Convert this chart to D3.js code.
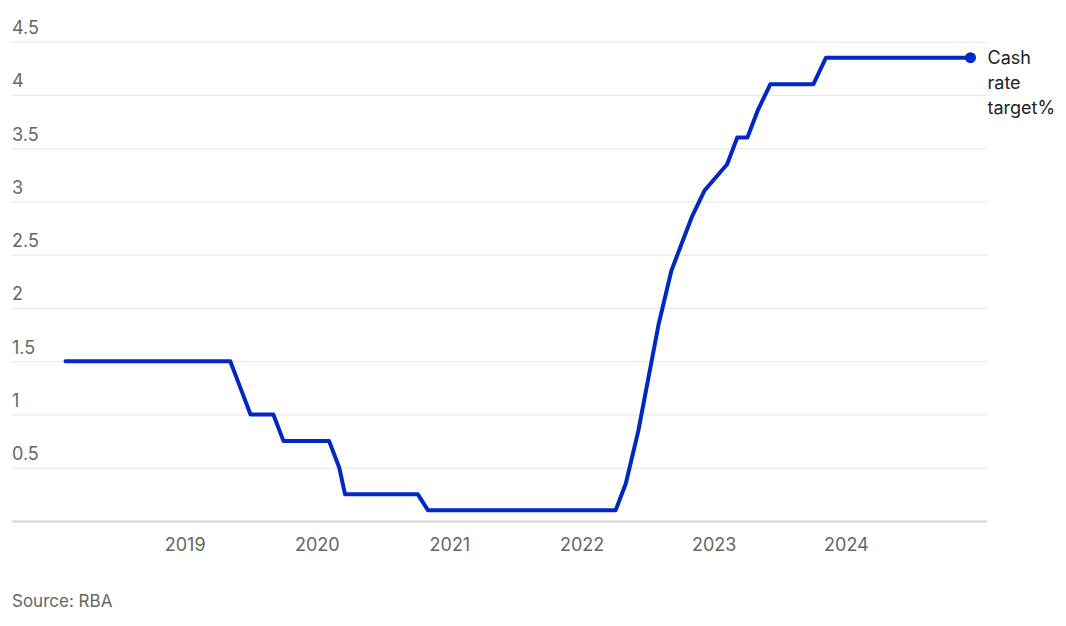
<!DOCTYPE html>
<html>
<head>
<meta charset="utf-8">
<script src="https://cdn.jsdelivr.net/npm/d3@7"></script>
<style>
  body { margin: 0; background: #fff; }
  svg text { font-family: "Inter", "Open Sans", sans-serif; }
</style>
</head>
<body>
<div id="chart"></div>
<script>
// RBA board decision dates and cash rate target (%)
var dates = [
  "2018-02-06","2018-03-06","2018-04-03","2018-05-01","2018-06-05","2018-07-03","2018-08-07","2018-09-04","2018-10-02","2018-11-06","2018-12-04",
  "2019-02-05","2019-03-05","2019-04-02","2019-05-07","2019-06-04","2019-07-02","2019-08-06","2019-09-03","2019-10-01","2019-11-05","2019-12-03",
  "2020-02-04","2020-03-03","2020-03-19","2020-04-07","2020-05-05","2020-06-02","2020-07-07","2020-08-04","2020-09-01","2020-10-06","2020-11-03","2020-12-01",
  "2021-02-02","2021-03-02","2021-04-06","2021-05-04","2021-06-01","2021-07-06","2021-08-03","2021-09-07","2021-10-05","2021-11-02","2021-12-07",
  "2022-02-01","2022-03-01","2022-04-05","2022-05-03","2022-06-07","2022-07-05","2022-08-02","2022-09-06","2022-10-04","2022-11-01","2022-12-06",
  "2023-02-07","2023-03-07","2023-04-04","2023-05-02","2023-06-06","2023-07-04","2023-08-01","2023-09-05","2023-10-03","2023-11-07","2023-12-05",
  "2024-02-06","2024-03-19","2024-05-07","2024-06-18","2024-08-06","2024-09-24","2024-11-05","2024-12-10"
];
var rates = [
  1.5,1.5,1.5,1.5,1.5,1.5,1.5,1.5,1.5,1.5,1.5,
  1.5,1.5,1.5,1.5,1.25,1.0,1.0,1.0,0.75,0.75,0.75,
  0.75,0.5,0.25,0.25,0.25,0.25,0.25,0.25,0.25,0.25,0.1,0.1,
  0.1,0.1,0.1,0.1,0.1,0.1,0.1,0.1,0.1,0.1,0.1,
  0.1,0.1,0.1,0.35,0.85,1.35,1.85,2.35,2.6,2.85,3.1,
  3.35,3.6,3.6,3.85,4.1,4.1,4.1,4.1,4.1,4.35,4.35,
  4.35,4.35,4.35,4.35,4.35,4.35,4.35,4.35
];
var yTicks = [0, 0.5, 1, 1.5, 2, 2.5, 3, 3.5, 4, 4.5];
var seriesLabel = ["Cash", "rate", "target%"];
var source = "Source: RBA";

var parse = d3.timeParse("%Y-%m-%d");
var data = dates.map(function(d, i) { return { date: parse(d), value: rates[i] }; });

var width = 1066, height = 626;
var gridLeft = 12, gridRight = 987;

var svg = d3.select("#chart").append("svg")
  .attr("width", width)
  .attr("height", height);

var x = d3.scaleTime()
  .domain(d3.extent(data, function(d) { return d.date; }))
  .range([65.5, 970.5]);

var y = d3.scaleLinear()
  .domain([0, 4.5])
  .range([521, 41.7]);

// gridlines + y labels
var yAxis = svg.append("g")
  .attr("transform", "translate(" + gridRight + ",0)")
  .call(d3.axisLeft(y).tickValues(yTicks).tickSize(gridRight - gridLeft)
    .tickFormat(function(d) { return d === 0 ? "" : d; }));
yAxis.select(".domain").remove();
yAxis.selectAll(".tick line")
  .attr("stroke", function(d) { return d === 0 ? "#d4d4d4" : "#e6e6e6"; })
  .attr("stroke-width", function(d) { return d === 0 ? 2 : 1; });
yAxis.selectAll(".tick text")
  .attr("x", -(gridRight - gridLeft))
  .attr("dy", null)
  .attr("y", -8)
  .attr("text-anchor", "start")
  .attr("fill", "#666")
  .style("font-size", "18px");

// x axis labels
var xAxis = svg.append("g")
  .attr("transform", "translate(0," + y(0) + ")")
  .call(d3.axisBottom(x).ticks(d3.timeYear.every(1)).tickSize(0).tickFormat(d3.timeFormat("%Y")));
xAxis.select(".domain").remove();
xAxis.selectAll(".tick text")
  .attr("dy", null)
  .attr("y", 30)
  .attr("fill", "#666")
  .style("font-size", "18px");

// line
var line = d3.line()
  .x(function(d) { return x(d.date); })
  .y(function(d) { return y(d.value); });

svg.append("path")
  .datum(data)
  .attr("d", line)
  .attr("fill", "none")
  .attr("stroke", "#0028c2")
  .attr("stroke-width", 4)
  .attr("stroke-linejoin", "round")
  .attr("stroke-linecap", "round");

var last = data[data.length - 1];
svg.append("circle")
  .attr("cx", x(last.date))
  .attr("cy", y(last.value))
  .attr("r", 5.5)
  .attr("fill", "#0028c2");

svg.append("text")
  .attr("x", x(last.date) + 17)
  .attr("y", y(last.value) + 6)
  .attr("fill", "#222")
  .style("font-size", "18px")
  .selectAll("tspan")
  .data(seriesLabel)
  .enter().append("tspan")
  .attr("x", x(last.date) + 17)
  .attr("dy", function(d, i) { return i === 0 ? 0 : 25; })
  .text(function(d) { return d; });

svg.append("text")
  .attr("x", 12)
  .attr("y", 607)
  .attr("fill", "#666")
  .style("font-size", "17px")
  .text(source);
</script>
</body>
</html>
